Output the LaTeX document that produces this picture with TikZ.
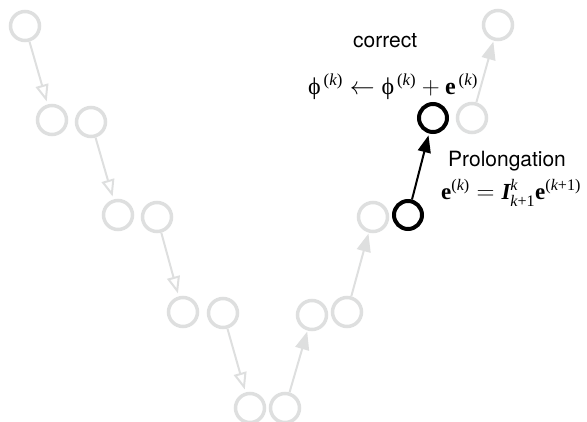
\documentclass[tikz,border=0pt]{standalone}
\usepackage{amsmath}
\usepackage{fontspec}
\setmainfont{Liberation Serif}
\newfontfamily\hel{TeX Gyre Heros}
\usetikzlibrary{arrows.meta}
\definecolor{lgray}{RGB}{222,223,223}
\tikzset{
  gnode/.style={circle,draw=lgray,line width=3.5pt,minimum size=29pt,inner sep=0pt},
  bnode/.style={circle,draw=black,line width=4pt,minimum size=28pt,inner sep=0pt},
  downarr/.style={draw=lgray,line width=2pt,-{Triangle[open,length=17pt,width=13pt,line width=2pt]},shorten >=3pt},
  uparr/.style={draw=lgray,line width=2pt,-{Triangle[length=18pt,width=14pt]},shorten >=1pt},
  blackarr/.style={draw=black,line width=2pt,-{Triangle[length=17pt,width=13pt]},shorten >=2pt},
  lbl/.style={font=\hel\fontsize{21}{24}\selectfont,inner sep=0pt},
  frm/.style={font=\fontsize{24}{28}\selectfont,inner sep=0pt}
}
\begin{document}
\begin{tikzpicture}[x=1pt,y=-1pt]
\useasboundingbox (0,0) rectangle (587,422);
\node[gnode] (a1) at (25,26) {};
\node[gnode] (a2) at (52,120) {};
\node[gnode] (a3) at (91,122) {};
\node[gnode] (a4) at (118,215) {};
\node[gnode] (a5) at (157,217) {};
\node[gnode] (a6) at (183,312) {};
\node[gnode] (a7) at (223,313) {};
\node[gnode] (a8) at (250,408) {};
\node[gnode] (a9) at (285,408) {};
\node[gnode] (a10) at (312,315) {};
\node[gnode] (a11) at (347,312) {};
\node[gnode] (a12) at (373,217) {};
\node[bnode] (b1) at (408,215) {};
\node[bnode] (b2) at (433,118) {};
\node[gnode] (a13) at (472,118) {};
\node[gnode] (a14) at (498,25) {};
\draw[downarr] (a1) -- (a2);
\draw[downarr] (a3) -- (a4);
\draw[downarr] (a5) -- (a6);
\draw[downarr] (a7) -- (a8);
\draw[uparr] (a9) -- (a10);
\draw[uparr] (a11) -- (a12);
\draw[uparr] (a13) -- (a14);
\draw[blackarr] (b1) -- (b2);
\node[lbl,anchor=base west] (t1) at (353,48) {correct};
\node[lbl,anchor=base west] (t2) at (448,167) {Prolongation};
\node[frm,anchor=base west] (f1) at (308,95)
  {$\text{ϕ}^{\,\text{(\itshape k\upshape)}}\leftarrow\text{ϕ}^{\,\text{(\itshape k\upshape)}}+\text{\bfseries e}^{\,\text{(\itshape k\upshape)}}$};
\node[frm,font=\fontsize{23}{27}\selectfont,anchor=base west] (f2) at (441,200)
  {$\text{\bfseries e}^{\text{(\itshape k\upshape)}}=\text{\bfseries\itshape I}^{\text{\itshape k}}_{\text{\itshape k\upshape+1}}\text{\bfseries e}^{\text{(\itshape k\upshape+1)}}$};
\end{tikzpicture}
\end{document}
